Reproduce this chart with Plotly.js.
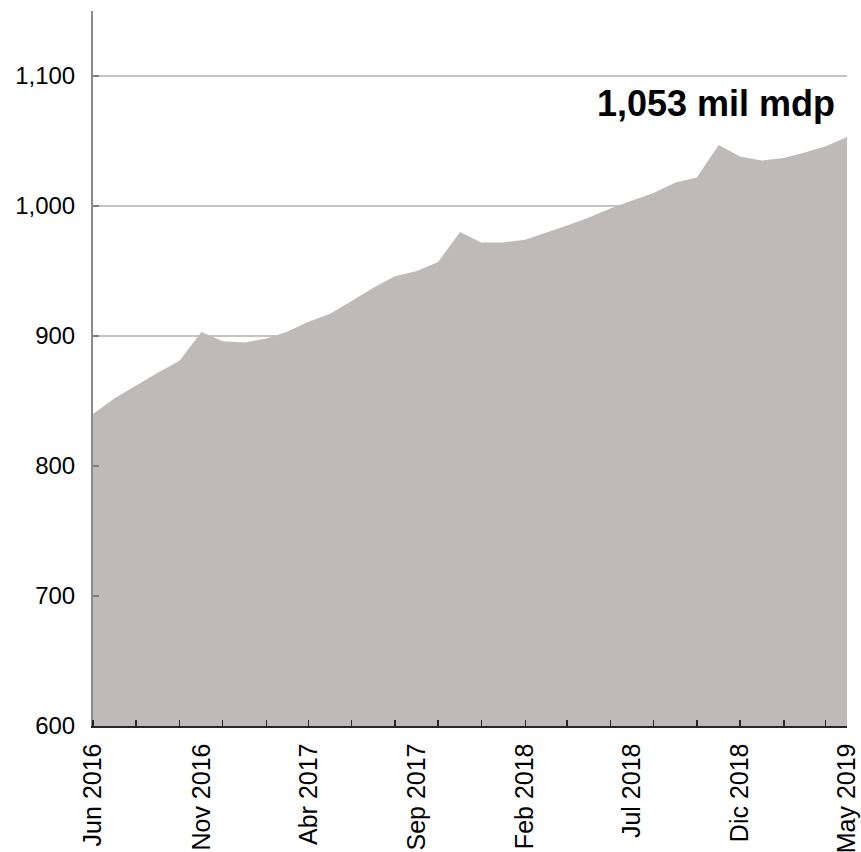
<!DOCTYPE html>
<html>
<head>
<meta charset="utf-8">
<script src="https://cdn.plot.ly/plotly-3.0.1.min.js"></script>
<style>html,body{margin:0;padding:0;background:#fff;}#chart{width:861px;height:852px;}</style>
</head>
<body>
<div id="chart"></div>
<script>
var months = [
  "2016-06-01","2016-07-01","2016-08-01","2016-09-01","2016-10-01","2016-11-01",
  "2016-12-01","2017-01-01","2017-02-01","2017-03-01","2017-04-01","2017-05-01",
  "2017-06-01","2017-07-01","2017-08-01","2017-09-01","2017-10-01","2017-11-01",
  "2017-12-01","2018-01-01","2018-02-01","2018-03-01","2018-04-01","2018-05-01",
  "2018-06-01","2018-07-01","2018-08-01","2018-09-01","2018-10-01","2018-11-01",
  "2018-12-01","2019-01-01","2019-02-01","2019-03-01","2019-04-01","2019-05-01"
];
var values = [
  840, 852, 862, 872, 881, 903,
  896, 895, 898, 903, 911, 917,
  927, 937, 946, 950, 957, 980,
  972, 972, 974, 979, 985, 991,
  998, 1004, 1010, 1018, 1022, 1047,
  1038, 1035, 1037, 1041, 1046, 1053
];
var labelDates = ["2016-06-01","2016-11-01","2017-04-01","2017-09-01","2018-02-01","2018-07-01","2018-12-01","2019-05-01"];
var labelTexts = ["Jun 2016","Nov 2016","Abr 2017","Sep 2017","Feb 2018","Jul 2018","Dic 2018","May 2019"];
var yTicks = [600, 700, 800, 900, 1000, 1100];
var yTickText = ["600","700","800","900","1,000","1,100"];
var annotationText = "1,053 mil mdp";

var font = "Liberation Sans, Arial, sans-serif";
var xr = [months[0], months[months.length - 1]];

var trace = {
  type: "scatter",
  mode: "lines",
  x: months,
  y: values,
  fill: "tozeroy",
  fillcolor: "#bfbaba",
  line: {width: 0, color: "#bfbaba"},
  hoverinfo: "skip",
  showlegend: false
};

var layout = {
  width: 861,
  height: 852,
  margin: {l: 93, r: 14, t: 11, b: 126},
  paper_bgcolor: "#ffffff",
  plot_bgcolor: "#ffffff",
  showlegend: false,
  font: {family: font, size: 24, color: "#000"},
  xaxis: {
    type: "date",
    range: xr,
    tickmode: "array",
    tickvals: labelDates,
    ticktext: labelTexts,
    tickangle: -90,
    ticks: "",
    ticklabelstandoff: 6,
    ticklabeloverflow: "allow",
    showgrid: false,
    zeroline: false,
    showline: true,
    linecolor: "#262626",
    linewidth: 1.5,
    tickfont: {family: font, size: 25, color: "#000"},
    minor: {tick0: "2016-06-01", dtick: "M2", ticks: "inside", ticklen: 6, tickwidth: 1.5, tickcolor: "#262626", showgrid: false}
  },
  xaxis2: {
    type: "date",
    overlaying: "x",
    anchor: "y",
    side: "bottom",
    range: xr,
    tick0: "2016-07-01",
    dtick: "M2",
    ticks: "outside",
    ticklen: 7,
    tickwidth: 1.5,
    tickcolor: "#262626",
    showticklabels: false,
    showgrid: false,
    zeroline: false,
    showline: false
  },
  yaxis: {
    range: [600, 1150],
    tickmode: "array",
    tickvals: yTicks,
    ticktext: yTickText,
    ticks: "inside",
    ticklen: 6,
    tickwidth: 1.5,
    tickcolor: "#7f7f7f",
    ticklabelstandoff: 11,
    showgrid: true,
    gridcolor: "#c4c4c4",
    gridwidth: 1.5,
    zeroline: false,
    showline: true,
    linecolor: "#8c8c8c",
    linewidth: 2,
    tickfont: {family: font, size: 24, color: "#000"}
  },
  annotations: [{
    xref: "paper", yref: "paper",
    x: 0.826, y: 0.87,
    xanchor: "center", yanchor: "middle",
    text: "<b>" + annotationText + "</b>",
    showarrow: false,
    font: {family: font, size: 36, color: "#000"}
  }]
};

Plotly.newPlot("chart", [trace], layout, {displayModeBar: false, staticPlot: true});
</script>
</body>
</html>
